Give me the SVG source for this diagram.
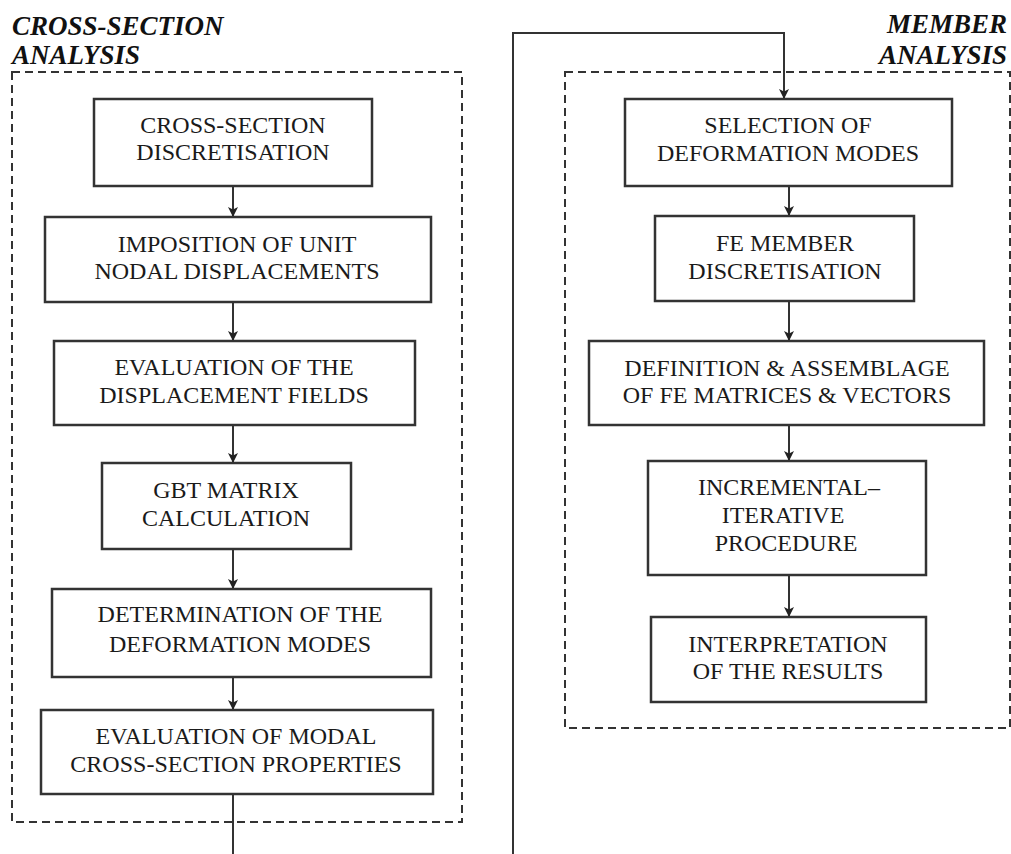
<svg xmlns="http://www.w3.org/2000/svg" width="1011" height="854" viewBox="0 0 1011 854">
  <style>
    .box { fill: #fff; stroke: #333; stroke-width: 2.5; }
    .frame { fill: none; stroke: #333; stroke-width: 2; stroke-dasharray: 8 5; }
    .txt { font-family: "Liberation Serif", "Times New Roman", serif; font-size: 24px; fill: #1a1a1a; text-anchor: middle; }
    .title { font-family: "Liberation Serif", "Times New Roman", serif; font-size: 27px; font-weight: bold; font-style: italic; fill: #111; }
    .link { fill: none; stroke: #333; stroke-width: 2; }
  </style>
  <defs>
    <marker id="arrow" viewBox="0 0 10 10" refX="10" refY="5" markerWidth="10" markerHeight="10" markerUnits="userSpaceOnUse" orient="auto">
      <path d="M0,0 L10,5 L0,10 L2.5,5 Z" fill="#222"/>
    </marker>
  </defs>

  <!-- section frames and headings -->
  <g id="cross-section-frame">
    <rect class="frame" x="12" y="72" width="450" height="750"/>
    <text class="title" x="12" y="35">CROSS-SECTION</text>
    <text class="title" x="12" y="64">ANALYSIS</text>
  </g>
  <g id="member-frame">
    <rect class="frame" x="565" y="72" width="445" height="656"/>
    <text class="title" x="1007" y="33" text-anchor="end">MEMBER</text>
    <text class="title" x="1007" y="64" text-anchor="end">ANALYSIS</text>
  </g>

  <!-- connectors -->
  <g id="connectors">
    <line class="link" x1="233" y1="186" x2="233" y2="217" marker-end="url(#arrow)"/>
    <line class="link" x1="233" y1="302" x2="233" y2="341" marker-end="url(#arrow)"/>
    <line class="link" x1="233" y1="425" x2="233" y2="463" marker-end="url(#arrow)"/>
    <line class="link" x1="233" y1="549" x2="233" y2="589" marker-end="url(#arrow)"/>
    <line class="link" x1="233" y1="677" x2="233" y2="710" marker-end="url(#arrow)"/>
    <line class="link" x1="233" y1="794" x2="233" y2="854"/>
    <polyline class="link" points="513,854 513,33 784,33 784,99" marker-end="url(#arrow)"/>
    <line class="link" x1="789" y1="186" x2="789" y2="216" marker-end="url(#arrow)"/>
    <line class="link" x1="789" y1="301" x2="789" y2="341" marker-end="url(#arrow)"/>
    <line class="link" x1="789" y1="425" x2="789" y2="461" marker-end="url(#arrow)"/>
    <line class="link" x1="789" y1="575" x2="789" y2="617" marker-end="url(#arrow)"/>
  </g>

  <!-- cross-section analysis steps -->
  <g id="cs-discretisation">
    <rect class="box" x="94" y="99" width="278" height="87"/>
    <text class="txt" x="233" y="133">CROSS-SECTION</text>
    <text class="txt" x="233" y="160">DISCRETISATION</text>
  </g>
  <g id="unit-displacements">
    <rect class="box" x="45" y="217" width="386" height="85"/>
    <text class="txt" x="237" y="252">IMPOSITION OF UNIT</text>
    <text class="txt" x="237" y="279">NODAL DISPLACEMENTS</text>
  </g>
  <g id="displacement-fields">
    <rect class="box" x="54" y="341" width="361" height="84"/>
    <text class="txt" x="234" y="375">EVALUATION OF THE</text>
    <text class="txt" x="234" y="403">DISPLACEMENT FIELDS</text>
  </g>
  <g id="gbt-matrix">
    <rect class="box" x="102" y="463" width="249" height="86"/>
    <text class="txt" x="226" y="498">GBT MATRIX</text>
    <text class="txt" x="226" y="526">CALCULATION</text>
  </g>
  <g id="deformation-modes">
    <rect class="box" x="52" y="589" width="379" height="88"/>
    <text class="txt" x="240" y="622">DETERMINATION OF THE</text>
    <text class="txt" x="240" y="652">DEFORMATION MODES</text>
  </g>
  <g id="modal-properties">
    <rect class="box" x="41" y="710" width="392" height="84"/>
    <text class="txt" x="236" y="744">EVALUATION OF MODAL</text>
    <text class="txt" x="236" y="772">CROSS-SECTION PROPERTIES</text>
  </g>

  <!-- member analysis steps -->
  <g id="mode-selection">
    <rect class="box" x="625" y="99" width="327" height="87"/>
    <text class="txt" x="788" y="133">SELECTION OF</text>
    <text class="txt" x="788" y="161">DEFORMATION MODES</text>
  </g>
  <g id="fe-discretisation">
    <rect class="box" x="655" y="216" width="259" height="85"/>
    <text class="txt" x="785" y="251">FE MEMBER</text>
    <text class="txt" x="785" y="279">DISCRETISATION</text>
  </g>
  <g id="fe-assemblage">
    <rect class="box" x="589" y="341" width="395" height="84"/>
    <text class="txt" x="787" y="376">DEFINITION &amp; ASSEMBLAGE</text>
    <text class="txt" x="787" y="403">OF FE MATRICES &amp; VECTORS</text>
  </g>
  <g id="incremental-iterative">
    <rect class="box" x="648" y="461" width="278" height="114"/>
    <text class="txt" x="789" y="495">INCREMENTAL–</text>
    <text class="txt" x="783" y="523">ITERATIVE</text>
    <text class="txt" x="786" y="551">PROCEDURE</text>
  </g>
  <g id="interpretation">
    <rect class="box" x="651" y="617" width="275" height="85"/>
    <text class="txt" x="788" y="652">INTERPRETATION</text>
    <text class="txt" x="788" y="679">OF THE RESULTS</text>
  </g>
</svg>
